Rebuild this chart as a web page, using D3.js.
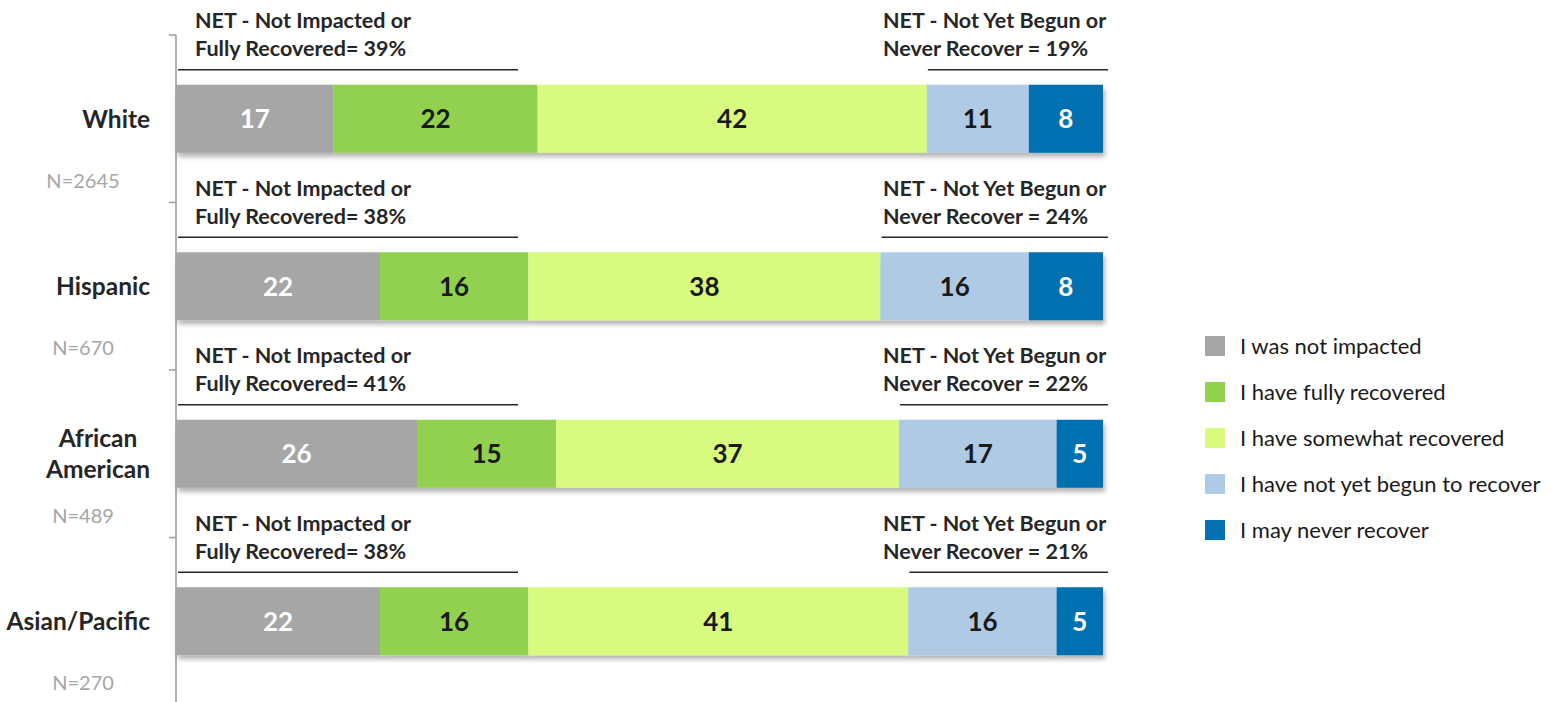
<!DOCTYPE html>
<html>
<head>
<meta charset="utf-8">
<script src="https://cdn.jsdelivr.net/npm/d3@7"></script>
<style>
  body { margin: 0; background: #fff; }
  svg { display: block; font-family: Lato, "Open Sans", sans-serif; }
</style>
</head>
<body>
<script>
// Data
const groups = ["White", "Hispanic", "African American", "Asian/Pacific"];
const groupLines = [["White"], ["Hispanic"], ["African", "American"], ["Asian/Pacific"]];
const sampleSizes = [2645, 670, 489, 270];
const seriesNames = ["I was not impacted", "I have fully recovered", "I have somewhat recovered",
                     "I have not yet begun to recover", "I may never recover"];
const notImpacted    = [17, 22, 26, 22];
const fullyRecovered = [22, 16, 15, 16];
const somewhat       = [42, 38, 37, 41];
const notYetBegun    = [11, 16, 17, 16];
const neverRecover   = [8, 8, 5, 5];
const netRecovered   = [39, 38, 41, 38];
const netNotYet      = [19, 24, 22, 21];

const colors = ["#a6a6a6", "#92d050", "#d8fa7e", "#aecae5", "#0070b0"];
const labelColors = ["#ffffff", "#1a1a1a", "#1a1a1a", "#1a1a1a", "#ffffff"];

const width = 1560, height = 702;

const seriesValues = [notImpacted, fullyRecovered, somewhat, notYetBegun, neverRecover];
const table = groups.map((g, i) => {
    const row = { group: g };
    seriesNames.forEach((s, j) => row[s] = seriesValues[j][i]);
    return row;
});
const stacked = d3.stack().keys(seriesNames)(table);

const x = d3.scaleLinear().domain([0, 100]).range([176, 1103]);
const y = d3.scaleBand().domain(groups).range([35, 705])
    .paddingInner(0.594).paddingOuter(0.297);
const gap = (y.step() - y.bandwidth()) / 2;

const svg = d3.select("body").append("svg")
    .attr("width", width)
    .attr("height", height);

const defs = svg.append("defs");
defs.append("filter")
    .attr("id", "shadow")
    .attr("x", "-5%").attr("y", "-20%").attr("width", "110%").attr("height", "150%")
    .append("feDropShadow")
    .attr("dx", 2).attr("dy", 4).attr("stdDeviation", 2.5)
    .attr("flood-color", "#000").attr("flood-opacity", 0.3);

// axis line with ticks at band boundaries
svg.append("line")
    .attr("x1", 176).attr("x2", 176)
    .attr("y1", y(groups[0]) - gap).attr("y2", height)
    .attr("stroke", "#999").attr("stroke-width", 1.5);
svg.selectAll("line.tick")
    .data(groups)
    .join("line")
    .attr("class", "tick")
    .attr("x1", 169).attr("x2", 176)
    .attr("y1", d => y(d) - gap).attr("y2", d => y(d) - gap)
    .attr("stroke", "#999").attr("stroke-width", 1.5);

// bars
const barGroup = svg.append("g").attr("filter", "url(#shadow)");
stacked.forEach((layer, j) => {
    barGroup.append("g")
        .attr("fill", colors[j])
        .selectAll("rect")
        .data(layer)
        .join("rect")
        .attr("x", d => x(d[0]))
        .attr("y", d => y(d.data.group))
        .attr("width", d => x(d[1]) - x(d[0]))
        .attr("height", y.bandwidth());
});

// value labels
stacked.forEach((layer, j) => {
    svg.append("g")
        .selectAll("text")
        .data(layer)
        .join("text")
        .attr("x", d => (x(d[0]) + x(d[1])) / 2)
        .attr("y", d => y(d.data.group) + y.bandwidth() / 2)
        .attr("dy", "0.36em")
        .attr("text-anchor", "middle")
        .attr("font-size", 26)
        .attr("font-weight", "bold")
        .attr("fill", labelColors[j])
        .text(d => d[1] - d[0]);
});

// category labels
groups.forEach((g, i) => {
    const lines = groupLines[i];
    const cy = y(g) + y.bandwidth() / 2;
    const t = svg.append("text")
        .attr("font-size", 24.5)
        .attr("font-weight", "bold")
        .attr("fill", "#262626");
    lines.forEach((ln, k) => {
        t.append("tspan")
            .attr("x", 150)
            .attr("y", cy + (k - (lines.length - 1) / 2) * 31)
            .attr("dy", "0.36em")
            .text(ln);
    });
    if (lines.length > 1) {
        // multi-line label: lines centred on each other, block right-aligned
        let maxW = 0;
        t.selectAll("tspan").each(function() { maxW = Math.max(maxW, this.getComputedTextLength()); });
        t.attr("text-anchor", "middle").selectAll("tspan").attr("x", 150 - maxW / 2);
    } else {
        t.attr("text-anchor", "end");
    }
});

// sample sizes
svg.append("g")
    .selectAll("text")
    .data(groups)
    .join("text")
    .attr("x", 83)
    .attr("y", d => y(d) + y.bandwidth() / 2 + 62)
    .attr("dy", "0.36em")
    .attr("text-anchor", "middle")
    .attr("font-size", 20)
    .attr("fill", "#a6a6a6")
    .text((d, i) => "N=" + sampleSizes[i]);

// NET annotations
groups.forEach((g, i) => {
    const top = y(g);
    const lineY = top - 15;
    const cum3 = notImpacted[i] + fullyRecovered[i] + somewhat[i];

    svg.append("line")
        .attr("x1", 178).attr("x2", 518)
        .attr("y1", lineY).attr("y2", lineY)
        .attr("stroke", "#262626").attr("stroke-width", 1.5);
    svg.append("line")
        .attr("x1", x(cum3) + 1).attr("x2", 1108)
        .attr("y1", lineY).attr("y2", lineY)
        .attr("stroke", "#262626").attr("stroke-width", 1.5);

    const left = svg.append("text")
        .attr("font-size", 21.5).attr("font-weight", "bold").attr("fill", "#262626");
    left.append("tspan").attr("x", 195).attr("y", top - 64).attr("dy", "0.36em")
        .text("NET - Not Impacted or");
    left.append("tspan").attr("x", 195).attr("y", top - 36).attr("dy", "0.36em")
        .text("Fully Recovered= " + netRecovered[i] + "%");

    const right = svg.append("text")
        .attr("font-size", 21.5).attr("font-weight", "bold").attr("fill", "#262626");
    right.append("tspan").attr("x", 883).attr("y", top - 64).attr("dy", "0.36em")
        .text("NET - Not Yet Begun or");
    right.append("tspan").attr("x", 883).attr("y", top - 36).attr("dy", "0.36em")
        .text("Never Recover = " + netNotYet[i] + "%");
});

// legend
const legend = svg.append("g")
    .selectAll("g")
    .data(seriesNames)
    .join("g")
    .attr("transform", (d, i) => `translate(1205, ${346 + i * 46})`);
legend.append("rect")
    .attr("x", 0).attr("y", -10)
    .attr("width", 20).attr("height", 20)
    .attr("fill", (d, i) => colors[i]);
legend.append("text")
    .attr("x", 35)
    .attr("dy", "0.36em")
    .attr("font-size", 22)
    .attr("fill", "#1a1a1a")
    .text(d => d);
</script>
</body>
</html>
